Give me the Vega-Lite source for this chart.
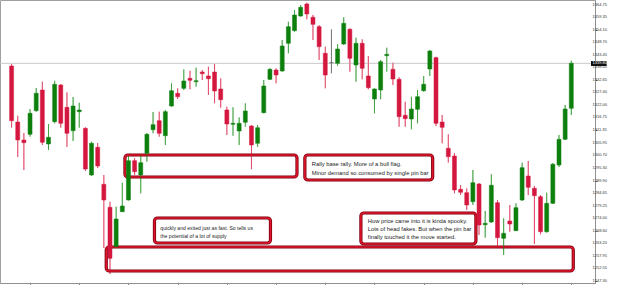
{
  "$schema": "https://vega.github.io/schema/vega-lite/v6.json",
  "width": 595,
  "height": 283,
  "autosize": "none",
  "padding": {"left": 0, "top": 0, "right": 30, "bottom": 2},
  "background": "white",
  "config": {
    "view": {"stroke": "#a0a0a0", "strokeWidth": 1},
    "axis": {"labelFont": "Liberation Sans", "grid": false, "title": null, "labelOverlap": false, "labelSeparation": 0, "labelBound": false}
  },
  "datasets": {
    "candles": [
      {"i":0,"open":1338.66,"high":1339.52,"low":1312.41,"close":1315.39},
      {"i":1,"open":1314.83,"high":1317.52,"low":1299.94,"close":1307.17},
      {"i":2,"open":1307.17,"high":1310.15,"low":1294.41,"close":1306.03},
      {"i":3,"open":1309.60,"high":1320.37,"low":1308.58,"close":1318.54},
      {"i":4,"open":1319.64,"high":1329.30,"low":1319.22,"close":1327.05},
      {"i":5,"open":1328.45,"high":1331.98,"low":1305.05,"close":1306.20},
      {"i":6,"open":1305.47,"high":1313.98,"low":1302.92,"close":1308.32},
      {"i":7,"open":1314.96,"high":1332.41,"low":1314.28,"close":1330.88},
      {"i":8,"open":1330.58,"high":1331.00,"low":1312.41,"close":1314.28},
      {"i":9,"open":1321.09,"high":1327.47,"low":1304.20,"close":1310.03},
      {"i":10,"open":1311.13,"high":1325.47,"low":1306.75,"close":1321.64},
      {"i":11,"open":1319.22,"high":1323.05,"low":1312.41,"close":1319.94},
      {"i":12,"open":1312.15,"high":1312.58,"low":1293.98,"close":1294.83},
      {"i":13,"open":1292.28,"high":1306.45,"low":1291.85,"close":1305.77},
      {"i":14,"open":1304.07,"high":1305.90,"low":1295.26,"close":1296.11},
      {"i":15,"open":1288.32,"high":1292.28,"low":1261.22,"close":1281.64},
      {"i":16,"open":1278.54,"high":1280.92,"low":1250.15,"close":1256.83},
      {"i":17,"open":1261.77,"high":1278.79,"low":1261.64,"close":1273.56},
      {"i":18,"open":1276.66,"high":1289.00,"low":1276.54,"close":1279.09},
      {"i":19,"open":1281.64,"high":1300.37,"low":1281.42,"close":1298.37},
      {"i":20,"open":1298.37,"high":1299.39,"low":1292.28,"close":1293.69},
      {"i":21,"open":1292.28,"high":1300.79,"low":1284.49,"close":1297.51},
      {"i":22,"open":1301.51,"high":1310.15,"low":1297.94,"close":1309.60},
      {"i":23,"open":1311.56,"high":1319.09,"low":1310.03,"close":1313.69},
      {"i":24,"open":1315.39,"high":1319.22,"low":1308.58,"close":1310.03},
      {"i":25,"open":1309.00,"high":1319.94,"low":1305.05,"close":1319.22},
      {"i":26,"open":1321.64,"high":1331.30,"low":1321.34,"close":1328.15},
      {"i":27,"open":1327.05,"high":1329.17,"low":1324.62,"close":1325.60},
      {"i":28,"open":1329.17,"high":1337.26,"low":1328.45,"close":1332.28},
      {"i":29,"open":1333.43,"high":1336.66,"low":1328.75,"close":1332.58},
      {"i":30,"open":1331.98,"high":1337.94,"low":1329.86,"close":1332.41},
      {"i":31,"open":1336.11,"high":1336.96,"low":1332.71,"close":1335.39},
      {"i":32,"open":1334.41,"high":1338.37,"low":1326.32,"close":1333.26},
      {"i":33,"open":1336.11,"high":1339.52,"low":1322.79,"close":1328.03},
      {"i":34,"open":1328.88,"high":1333.43,"low":1320.92,"close":1324.32},
      {"i":35,"open":1319.94,"high":1321.34,"low":1309.30,"close":1313.98},
      {"i":36,"open":1313.86,"high":1321.09,"low":1309.00,"close":1314.28},
      {"i":37,"open":1311.00,"high":1316.83,"low":1305.05,"close":1314.28},
      {"i":38,"open":1314.71,"high":1322.79,"low":1312.83,"close":1319.52},
      {"i":39,"open":1313.13,"high":1313.56,"low":1294.71,"close":1305.05},
      {"i":40,"open":1305.77,"high":1313.56,"low":1304.20,"close":1312.41},
      {"i":41,"open":1318.79,"high":1332.71,"low":1318.54,"close":1330.15},
      {"i":42,"open":1333.00,"high":1337.69,"low":1332.71,"close":1337.26},
      {"i":43,"open":1336.96,"high":1337.69,"low":1331.30,"close":1334.83},
      {"i":44,"open":1336.54,"high":1349.73,"low":1336.24,"close":1347.18},
      {"i":45,"open":1348.32,"high":1357.52,"low":1344.07,"close":1355.39},
      {"i":46,"open":1353.69,"high":1362.49,"low":1353.26,"close":1360.37},
      {"i":47,"open":1359.94,"high":1364.62,"low":1359.64,"close":1363.64},
      {"i":48,"open":1365.05,"high":1365.60,"low":1358.54,"close":1360.79},
      {"i":49,"open":1359.39,"high":1360.37,"low":1349.73,"close":1356.41},
      {"i":50,"open":1355.39,"high":1356.11,"low":1341.22,"close":1346.88},
      {"i":51,"open":1344.07,"high":1346.88,"low":1329.17,"close":1334.83},
      {"i":52,"open":1340.07,"high":1354.28,"low":1335.56,"close":1340.07},
      {"i":53,"open":1339.81,"high":1347.90,"low":1338.79,"close":1345.90},
      {"i":54,"open":1348.03,"high":1359.39,"low":1347.60,"close":1356.83},
      {"i":55,"open":1354.28,"high":1354.71,"low":1336.24,"close":1341.94},
      {"i":56,"open":1339.09,"high":1350.71,"low":1331.98,"close":1348.32},
      {"i":57,"open":1348.32,"high":1350.03,"low":1333.00,"close":1337.69},
      {"i":58,"open":1334.41,"high":1342.92,"low":1328.75,"close":1329.43},
      {"i":59,"open":1324.62,"high":1329.17,"low":1318.54,"close":1328.88},
      {"i":60,"open":1328.45,"high":1341.22,"low":1324.49,"close":1340.49},
      {"i":61,"open":1343.05,"high":1346.45,"low":1336.24,"close":1343.64},
      {"i":62,"open":1337.26,"high":1340.07,"low":1330.58,"close":1333.13},
      {"i":63,"open":1333.00,"high":1333.86,"low":1312.83,"close":1317.09},
      {"i":64,"open":1317.69,"high":1323.47,"low":1312.83,"close":1316.24},
      {"i":65,"open":1316.11,"high":1325.60,"low":1311.73,"close":1320.37},
      {"i":66,"open":1320.24,"high":1328.45,"low":1314.28,"close":1325.60},
      {"i":67,"open":1328.15,"high":1334.41,"low":1327.73,"close":1330.88},
      {"i":68,"open":1337.39,"high":1345.48,"low":1334.41,"close":1345.05},
      {"i":69,"open":1342.20,"high":1342.62,"low":1313.13,"close":1314.28},
      {"i":70,"open":1314.83,"high":1317.81,"low":1305.77,"close":1312.58},
      {"i":71,"open":1303.64,"high":1309.60,"low":1297.51,"close":1300.07},
      {"i":72,"open":1300.37,"high":1301.64,"low":1284.49,"close":1285.90},
      {"i":73,"open":1286.20,"high":1288.03,"low":1283.77,"close":1284.92},
      {"i":74,"open":1284.75,"high":1286.62,"low":1277.39,"close":1279.51},
      {"i":75,"open":1280.92,"high":1294.41,"low":1279.51,"close":1289.00},
      {"i":76,"open":1288.45,"high":1288.88,"low":1266.75,"close":1271.00},
      {"i":77,"open":1271.13,"high":1276.96,"low":1265.60,"close":1271.73},
      {"i":78,"open":1272.28,"high":1292.58,"low":1271.85,"close":1287.90},
      {"i":79,"open":1280.49,"high":1281.64,"low":1261.77,"close":1265.60},
      {"i":80,"open":1265.34,"high":1273.85,"low":1258.24,"close":1267.47},
      {"i":81,"open":1272.71,"high":1279.51,"low":1268.15,"close":1271.43},
      {"i":82,"open":1268.58,"high":1280.24,"low":1268.45,"close":1278.37},
      {"i":83,"open":1281.64,"high":1297.51,"low":1281.22,"close":1295.39},
      {"i":84,"open":1291.85,"high":1298.24,"low":1283.77,"close":1287.05},
      {"i":85,"open":1286.62,"high":1287.60,"low":1262.92,"close":1283.47},
      {"i":86,"open":1283.05,"high":1283.77,"low":1267.05,"close":1268.15},
      {"i":87,"open":1268.15,"high":1284.75,"low":1267.73,"close":1280.24},
      {"i":88,"open":1280.24,"high":1297.39,"low":1279.94,"close":1296.84},
      {"i":89,"open":1296.54,"high":1309.30,"low":1295.68,"close":1307.47},
      {"i":90,"open":1307.47,"high":1322.07,"low":1307.17,"close":1320.37},
      {"i":91,"open":1320.66,"high":1340.92,"low":1317.81,"close":1339.81}
    ],
    "boxes": [
      {"box":"A","kind":"zone","x1":18.43,"x2":46.40,"y1":1300.79,"y2":1291.43},
      {"box":"B","kind":"note","x1":47.68,"x2":68.46,"y1":1300.79,"y2":1290.15},
      {"box":"C","kind":"note","x1":23.23,"x2":42.09,"y1":1273.98,"y2":1263.34},
      {"box":"D","kind":"note","x1":56.79,"x2":75.49,"y1":1276.11,"y2":1262.92},
      {"box":"E","kind":"zone","x1":15.39,"x2":91.32,"y1":1261.64,"y2":1251.43}
    ],
    "notes": [
      {"box":"B","x":48.8,"y":1296.96,"text":"Rally base rally. More of a bull flag."},
      {"box":"B","x":48.8,"y":1293.34,"text":"Minor demand so consumed by single pin bar"},
      {"box":"C","x":24.19,"y":1269.73,"text":"quickly and exited just as fast. So tells us"},
      {"box":"C","x":24.19,"y":1266.32,"text":"the potential of a lot of supply"},
      {"box":"D","x":57.91,"y":1272.71,"text":"How price came into it is kinda spooky."},
      {"box":"D","x":57.91,"y":1269.30,"text":"Lots of head fakes. But when the pin bar"},
      {"box":"D","x":57.91,"y":1265.90,"text":"finally touched it the move started."}
    ],
    "bid": [{"price":1339.80,"label":"1339.80"}],
    "priceTicks": [
      {"p":1364.75},{"p":1359.35},{"p":1354.10},{"p":1348.70},{"p":1343.45},{"p":1338.05},{"p":1332.65},{"p":1327.40},{"p":1322.00},{"p":1316.75},{"p":1311.35},{"p":1305.95},{"p":1300.70},{"p":1295.30},{"p":1289.90},{"p":1284.65},{"p":1279.25},{"p":1274.00},{"p":1268.60},{"p":1263.20},{"p":1257.95},{"p":1252.55},{"p":1247.30}
    ]
  },
  "layer": [
    {
      "data": {"name": "candles"},
      "mark": {"type": "rule", "strokeWidth": 1, "opacity": 0.55},
      "encoding": {
        "x": {"field": "i", "type": "quantitative", "scale": {"domain": [-1.071, 94.04], "nice": false, "zero": false},
              "axis": {"orient": "bottom", "values": [3,7,11,15,19,23,27,31,35,39,43,47,51,55,59,63,67,71,75,79,83,87,91], "labels": false, "ticks": true, "tickSize": 3, "tickColor": "#888888", "domainColor": "#909090", "title": null}},
        "y": {"field": "low", "type": "quantitative", "scale": {"domain": [1246.32, 1366.75], "nice": false, "zero": false},
              "axis": {"orient": "right", "values": [1364.75,1359.35,1354.10,1348.70,1343.45,1338.05,1332.65,1327.40,1322.00,1316.75,1311.35,1305.95,1300.70,1295.30,1289.90,1284.65,1279.25,1274.00,1268.60,1263.20,1257.95,1252.55,1247.30], "labels": false, "tickSize": 2, "tickColor": "#666666", "domainColor": "#909090", "title": null}},
        "y2": {"field": "high"},
        "color": {"condition": [{"test": "datum.close > datum.open", "value": "#138a13"}, {"test": "datum.close < datum.open", "value": "#d81b45"}], "value": "#555555"}
      }
    },
    {
      "data": {"name": "bid"},
      "mark": {"type": "rule", "stroke": "#c8c8c8", "strokeWidth": 1},
      "encoding": {
        "y": {"field": "price", "type": "quantitative"}
      }
    },
    {
      "data": {"name": "boxes"},
      "mark": {"type": "rect", "stroke": "#7a0010", "strokeWidth": 3.2, "cornerRadius": 3, "fill": "white"},
      "encoding": {
        "x": {"field": "x1", "type": "quantitative"},
        "x2": {"field": "x2"},
        "y": {"field": "y1", "type": "quantitative"},
        "y2": {"field": "y2"},
        "fillOpacity": {"condition": {"test": "datum.kind == 'note'", "value": 1}, "value": 0}
      }
    },
    {
      "data": {"name": "boxes"},
      "mark": {"type": "rect", "stroke": "#e0142a", "strokeWidth": 1.6, "cornerRadius": 3, "fill": null},
      "encoding": {
        "x": {"field": "x1", "type": "quantitative"},
        "x2": {"field": "x2"},
        "y": {"field": "y1", "type": "quantitative"},
        "y2": {"field": "y2"}
      }
    },
    {
      "data": {"name": "candles"},
      "mark": {"type": "rule", "strokeWidth": 1, "opacity": 0.55},
      "encoding": {
        "x": {"field": "i", "type": "quantitative"},
        "y": {"field": "low", "type": "quantitative"},
        "y2": {"field": "high"},
        "color": {"condition": [{"test": "datum.close > datum.open", "value": "#138a13"}, {"test": "datum.close < datum.open", "value": "#d81b45"}], "value": "#555555"}
      }
    },
    {
      "data": {"name": "candles"},
      "mark": {"type": "bar", "size": 4, "strokeWidth": 0.5},
      "encoding": {
        "x": {"field": "i", "type": "quantitative"},
        "y": {"field": "open", "type": "quantitative"},
        "y2": {"field": "close"},
        "color": {"condition": [{"test": "datum.close > datum.open", "value": "#0c7f0c"}, {"test": "datum.close < datum.open", "value": "#d4173f"}], "value": "#555555"},
        "stroke": {"condition": [{"test": "datum.close > datum.open", "value": "#0c7f0c"}, {"test": "datum.close < datum.open", "value": "#d4173f"}], "value": "#555555"}
      }
    },
    {
      "data": {"name": "notes"},
      "mark": {"type": "text", "align": "left", "baseline": "middle", "font": "Liberation Sans", "color": "#222222"},
      "encoding": {
        "x": {"field": "x", "type": "quantitative"},
        "y": {"field": "y", "type": "quantitative"},
        "text": {"field": "text"},
        "size": {"condition": {"test": "datum.box == 'C'", "value": 5.1}, "value": 5.8}
      }
    },
    {
      "data": {"name": "priceTicks"},
      "mark": {"type": "text", "align": "left", "baseline": "middle", "color": "#333333", "fontSize": 4, "font": "Liberation Sans"},
      "encoding": {
        "x": {"datum": 94.45, "type": "quantitative"},
        "y": {"field": "p", "type": "quantitative"},
        "text": {"field": "p", "format": ".2f"}
      }
    },
    {
      "data": {"name": "bid"},
      "mark": {"type": "rect", "color": "#111111"},
      "encoding": {
        "x": {"datum": 94.2, "type": "quantitative"},
        "x2": {"datum": 96.75},
        "y": {"datum": 1340.79, "type": "quantitative"},
        "y2": {"datum": 1338.66}
      }
    },
    {
      "data": {"name": "bid"},
      "mark": {"type": "text", "align": "left", "baseline": "middle", "color": "white", "fontSize": 4, "font": "Liberation Sans"},
      "encoding": {
        "x": {"datum": 94.45, "type": "quantitative"},
        "y": {"field": "price", "type": "quantitative"},
        "text": {"field": "label"}
      }
    }
  ]
}
